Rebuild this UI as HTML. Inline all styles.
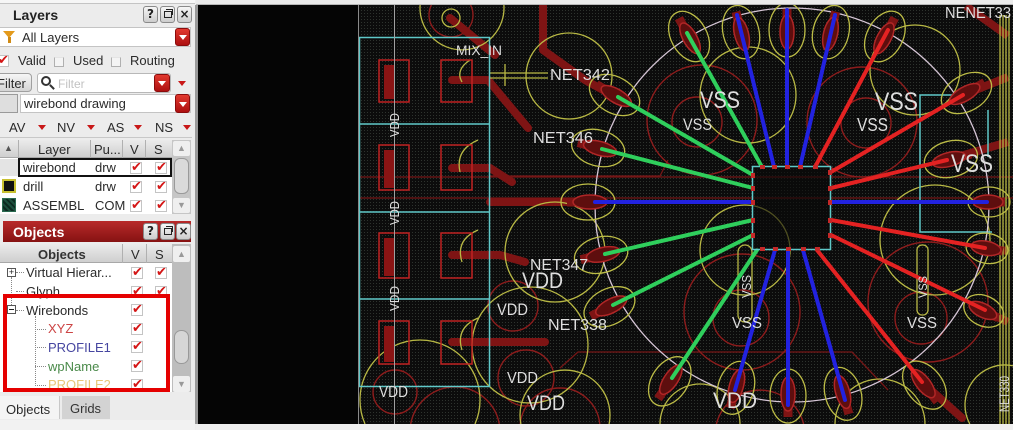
<!DOCTYPE html>
<html><head><meta charset="utf-8">
<style>
*{margin:0;padding:0;box-sizing:border-box}
html{width:1013px;height:430px;overflow:hidden}
body{width:1013px;height:430px;overflow:hidden;background:#eeeeee;position:relative;font-family:"Liberation Sans","DejaVu Sans",sans-serif}
.a{position:absolute}
.t{position:absolute;font-size:13px;color:#2a2a2a;white-space:nowrap;line-height:1}
.rb{position:absolute;background:linear-gradient(#e2392f,#ad1010);border-radius:3px;border:1px solid #8a0c0c}
.rb:after{content:"";position:absolute;left:50%;top:50%;margin-left:-4px;margin-top:-2px;border-left:4px solid transparent;border-right:4px solid transparent;border-top:5px solid #fff}
.tri{position:absolute;width:0;height:0;border-left:4px solid transparent;border-right:4px solid transparent;border-top:5px solid #c81818}
.ck{position:absolute;width:12px;height:12px;background:#fff;border:1px solid #c4c4c4}
.ck:after{content:"✔";position:absolute;left:0px;top:-3px;color:#d41515;font:bold 13px "DejaVu Sans",sans-serif}
.eb{position:absolute;width:10px;height:10px;border:1px solid #b0b0b0;border-top-color:#e4e4e4;background:#f4f4f4}
.btn{position:absolute;width:15px;height:17px;background:linear-gradient(#f6f6f6,#cdcdcd);border:1px solid #8a8a8a;border-radius:3px;font:bold 12px "DejaVu Sans",sans-serif;color:#222;text-align:center;line-height:15px;overflow:hidden}
.hdr{position:absolute;background:linear-gradient(#ebebeb,#cfcfcf);border-bottom:1px solid #a8a8a8}
.vd{position:absolute;width:1px;background:#b0b0b0}
</style></head><body>

<svg class="a" style="left:0;top:0;display:block" width="1013" height="430" viewBox="0 0 1013 430">
<defs>
<pattern id="dp" width="3" height="3" patternUnits="userSpaceOnUse"><rect width="3" height="3" fill="#0c0c0c"/><rect x="1" y="1" width="1" height="1" fill="#2e332e"/></pattern>
<clipPath id="cl"><rect x="359" y="5" width="654" height="419"/></clipPath>
<g id="pd"><path d="M0 0H25" stroke="#7e1414" stroke-width="9"/><ellipse cx="4" rx="27" ry="18" stroke="#bcbc46" stroke-width="1.3" fill="none"/><ellipse cx="2" rx="17" ry="7" fill="#5e0e0e" stroke="#b02626" stroke-width="1.5"/></g>
<g id="ps"><path d="M0 0H18" stroke="#7e1414" stroke-width="9"/><ellipse cx="2" rx="21" ry="15" stroke="#bcbc46" stroke-width="1.3" fill="none"/><ellipse cx="1" rx="15" ry="7" fill="#5e0e0e" stroke="#b02626" stroke-width="1.5"/></g>
</defs>
<rect width="1013" height="430" fill="#eeeeee"/>
<rect x="196" y="5" width="817" height="419" fill="#050505"/>
<rect x="195" y="5" width="3" height="419" fill="#9a9a9a"/>
<g clip-path="url(#cl)" font-family="Liberation Sans, sans-serif" fill="none">
<rect x="359" y="5" width="654" height="419" fill="url(#dp)"/>

<g stroke="#761616" stroke-width="1.3">
<path d="M359 177H1013M359 198H1013"/>
<path d="M560 368L578 352H852L888 390"/>
<path d="M490 176H660L668 160"/>
</g>

<g stroke="#8c1c1c" stroke-width="1.4">
<path d="M431.4 5A22 22 0 1 0 470.6 5"/>
<circle cx="697" cy="122" r="25"/><circle cx="702" cy="120" r="55"/>
<circle cx="866" cy="123" r="25"/><circle cx="862" cy="122" r="55"/>
<circle cx="741" cy="318" r="28"/><circle cx="742" cy="312" r="58"/>
<circle cx="921" cy="318" r="26"/><circle cx="928" cy="302" r="60"/>
<circle cx="513" cy="306" r="25"/>
<circle cx="526" cy="378" r="28"/>
<circle cx="395" cy="392" r="22"/>
<path d="M410.7 424A45 45 0 0 1 499.3 424"/>
<path d="M520.2 424A40 40 0 0 1 599.8 424"/>
<path d="M716.4 424A45 45 0 0 1 803.6 424"/>
</g>

<g stroke="#7e1414" stroke-width="8" stroke-linejoin="round" stroke-linecap="round">
<path d="M543 6V50L585 80L612 95"/>
<path d="M452 80H488L528 128"/>
<path d="M452 168H490L512 182"/>
<path d="M452 255H500L525 262"/>
<path d="M452 342H545"/>
<path d="M490 202H595"/>
<path d="M922 382L962 418"/>
<path d="M450 18L495 55"/>
</g>
<g stroke="#7e1414" stroke-width="8" stroke-linecap="butt">
<path d="M966 6L1008 36"/>
<path d="M963 95L1008 77"/>
<path d="M947 160L1008 142"/>
<path d="M985 248L1008 251"/>
<path d="M982 310L1008 322"/>
</g>

<g stroke="#b8b844" stroke-width="1.3">
<circle cx="569" cy="76" r="43"/>
<path d="M420.1 5A42 42 0 1 0 503.9 5"/>
<circle cx="748" cy="95" r="48"/>
<circle cx="915" cy="70" r="45"/>
<circle cx="555" cy="252" r="50"/>
<circle cx="745" cy="250" r="45"/>
<circle cx="935" cy="240" r="55"/>
<circle cx="530" cy="345" r="58"/>
<path d="M365 424A60 60 0 1 1 475 424"/>
<path d="M520.9 424A45 45 0 1 1 609.1 424"/>
<path d="M660 424A40 40 0 0 1 740 424"/>
<path d="M835 424A45 45 0 0 1 925 424"/>
<path d="M969.8 424A40 40 0 0 1 1013 365.8"/>
<circle cx="451" cy="18" r="9"/>
<path d="M490 73H548M490 78H548M505 64V86"/>
<rect x="738" y="245" width="14" height="77" rx="7"/>
<rect x="917" y="245" width="11" height="70" rx="5"/>
<path d="M470 60Q455 70 462 82M478 140Q455 150 460 172M478 230Q455 240 462 262M478 318Q455 328 462 350"/>
<path d="M1000 15V424M1003 15V424M1006 15V424M1009 15V424"/>
</g>

<g stroke="#5fc8c8" stroke-width="1.5">
<rect x="359.5" y="37.5" width="130" height="349"/>
<path d="M359 124H490M359 212H490M359 299H490"/>
<path d="M960 95H920V232H992M988 110V157"/>
</g>

<g stroke="#c02222" stroke-width="1.5">
<rect x="379" y="60" width="30" height="42"/><rect x="441" y="60" width="31" height="42"/>
<rect x="379" y="145" width="30" height="45"/><rect x="441" y="145" width="31" height="45"/>
<rect x="379" y="233" width="30" height="45"/><rect x="441" y="233" width="31" height="45"/>
<rect x="379" y="321" width="30" height="43"/><rect x="441" y="321" width="31" height="43"/>
</g>
<g fill="#8a1414">
<rect x="384" y="65" width="10" height="34"/><rect x="384" y="150" width="10" height="38"/>
<rect x="384" y="238" width="10" height="38"/><rect x="384" y="326" width="10" height="36"/>
</g>

<circle cx="792" cy="205" r="197" stroke="#d6c6d6" stroke-width="1.3"/>
<path d="M394.5 5V424" stroke="#a0a0a0" stroke-width="1"/>

<g>
<use href="#pd" transform="translate(618 97) rotate(-150)"/>
<use href="#pd" transform="translate(602 149) rotate(-165)"/>
<use href="#pd" transform="translate(691 40) rotate(-119)"/>
<use href="#pd" transform="translate(605 254) rotate(167)"/>
<use href="#pd" transform="translate(613 305) rotate(153)"/>
<use href="#pd" transform="translate(672 378) rotate(124)"/>
<use href="#pd" transform="translate(742 36) rotate(-104)"/>
<use href="#pd" transform="translate(787 34) rotate(-90)"/>
<use href="#pd" transform="translate(830 36) rotate(-77)"/>
<use href="#pd" transform="translate(592 202) rotate(180)"/>
<use href="#ps" transform="translate(987 202)"/>
<use href="#pd" transform="translate(737 384) rotate(106)"/>
<use href="#pd" transform="translate(788 392) rotate(90)"/>
<use href="#pd" transform="translate(842 390) rotate(74)"/>
<use href="#pd" transform="translate(883 40) rotate(-62)"/>
<use href="#pd" transform="translate(963 95) rotate(-30)"/>
<use href="#pd" transform="translate(947 160) rotate(-14)"/>
<use href="#ps" transform="translate(985 248) rotate(10)"/>
<use href="#ps" transform="translate(982 310) rotate(26)"/>
<use href="#pd" transform="translate(922 382) rotate(52)"/>
</g>

<g stroke-width="4" stroke-linecap="round">
<g stroke="#2fcf5c">
<path d="M753 175L618 97"/><path d="M753 188L602 149"/><path d="M762 167L687 33"/>
<path d="M753 220L605 254"/><path d="M753 235L613 305"/><path d="M757 250L672 378"/>
</g>
<g stroke="#2222e0">
<path d="M774 167L737 15"/><path d="M787 167V10"/><path d="M800 167L835 15"/>
<path d="M752 202H595"/><path d="M831 202H987"/>
<path d="M775 250L735 390"/><path d="M788 250V405"/><path d="M803 250L845 400"/>
</g>
<g stroke="#e42222">
<path d="M815 167L888 30"/><path d="M831 172L963 95"/><path d="M831 188L947 160"/>
<path d="M831 220L985 248"/><path d="M831 235L985 310"/><path d="M817 250L922 382"/>
</g>
</g>

<rect x="752.5" y="166.5" width="78" height="83" fill="#0a0a0a" fill-opacity="0.6" stroke="#5fc8c8" stroke-width="1.5"/>
<g fill="#c42828">
<rect x="760" y="165" width="5" height="4"/><rect x="772" y="165" width="5" height="4"/><rect x="785" y="165" width="5" height="4"/><rect x="798" y="165" width="5" height="4"/><rect x="813" y="165" width="5" height="4"/>
<rect x="760" y="247" width="5" height="4"/><rect x="773" y="247" width="5" height="4"/><rect x="786" y="247" width="5" height="4"/><rect x="801" y="247" width="5" height="4"/><rect x="815" y="247" width="5" height="4"/>
<rect x="751" y="173" width="4" height="5"/><rect x="751" y="186" width="4" height="5"/><rect x="751" y="200" width="4" height="5"/><rect x="751" y="218" width="4" height="5"/><rect x="751" y="233" width="4" height="5"/>
<rect x="828" y="170" width="4" height="5"/><rect x="828" y="186" width="4" height="5"/><rect x="828" y="200" width="4" height="5"/><rect x="828" y="218" width="4" height="5"/><rect x="828" y="233" width="4" height="5"/>
</g>

<g fill="#dedede" stroke="none">
<text x="456" y="55" font-size="14" textLength="46" lengthAdjust="spacingAndGlyphs">MIX_IN</text>
<text x="550" y="80" font-size="16" textLength="60" lengthAdjust="spacingAndGlyphs">NET342</text>
<text x="533" y="143" font-size="16" textLength="60" lengthAdjust="spacingAndGlyphs">NET346</text>
<text x="700" y="108" font-size="24" textLength="40" lengthAdjust="spacingAndGlyphs">VSS</text>
<text x="683" y="130" font-size="17" textLength="29" lengthAdjust="spacingAndGlyphs">VSS</text>
<text x="875" y="110" font-size="25" textLength="43" lengthAdjust="spacingAndGlyphs">VSS</text>
<text x="857" y="131" font-size="18" textLength="31" lengthAdjust="spacingAndGlyphs">VSS</text>
<text x="951" y="172" font-size="25" textLength="42" lengthAdjust="spacingAndGlyphs">VSS</text>
<text x="945" y="18" font-size="16" textLength="66" lengthAdjust="spacingAndGlyphs">NENET33</text>
<text x="530" y="270" font-size="16" textLength="58" lengthAdjust="spacingAndGlyphs">NET347</text>
<text x="522" y="288" font-size="22" textLength="41" lengthAdjust="spacingAndGlyphs">VDD</text>
<text x="497" y="315" font-size="17" textLength="31" lengthAdjust="spacingAndGlyphs">VDD</text>
<text x="548" y="330" font-size="16" textLength="59" lengthAdjust="spacingAndGlyphs">NET338</text>
<text x="507" y="383" font-size="16" textLength="31" lengthAdjust="spacingAndGlyphs">VDD</text>
<text x="527" y="410" font-size="21" textLength="38" lengthAdjust="spacingAndGlyphs">VDD</text>
<text x="713" y="408" font-size="22" textLength="44" lengthAdjust="spacingAndGlyphs">VDD</text>
<text x="732" y="328" font-size="16" textLength="30" lengthAdjust="spacingAndGlyphs">VSS</text>
<text x="907" y="328" font-size="16" textLength="30" lengthAdjust="spacingAndGlyphs">VSS</text>
<text x="379" y="397" font-size="16" textLength="29" lengthAdjust="spacingAndGlyphs">VDD</text>
<text transform="translate(399 137) rotate(-90)" font-size="13" textLength="24" lengthAdjust="spacingAndGlyphs">VDD</text>
<text transform="translate(399 225) rotate(-90)" font-size="13" textLength="24" lengthAdjust="spacingAndGlyphs">VDD</text>
<text transform="translate(399 311) rotate(-90)" font-size="13" textLength="25" lengthAdjust="spacingAndGlyphs">VDD</text>
<text transform="translate(751 298) rotate(-90)" font-size="13" textLength="23" lengthAdjust="spacingAndGlyphs">VSS</text>
<text transform="translate(927 298) rotate(-90)" font-size="12" textLength="22" lengthAdjust="spacingAndGlyphs">VSS</text>
<text transform="translate(1009 412) rotate(-90)" font-size="14" textLength="36" lengthAdjust="spacingAndGlyphs">NET330</text>
</g>
</g>
<rect x="358" y="5" width="1" height="419" fill="#8a8a8a"/>
<rect x="196" y="0" width="817" height="5" fill="#ebebeb"/>
<rect x="196" y="4" width="817" height="1" fill="#b8b8b8"/>
<rect x="196" y="424" width="817" height="6" fill="#f0f0f0"/>
</svg>

<div class="a" style="left:0;top:0;width:195px;height:430px;background:#ececec;overflow:hidden">
  <div class="a" style="left:0;top:0;width:195px;height:4px;background:#f6f6f6;border-bottom:1px solid #c4c4c4"></div>
  <div class="t" style="left:13px;top:8px;font-weight:bold;font-size:14px;color:#222">Layers</div>
  <div class="btn" style="left:143px;top:6px">?</div>
  <div class="btn" style="left:160px;top:6px"><div class="a" style="left:3px;top:4px;width:8px;height:7px;border:1.5px solid #222"></div><div class="a" style="left:5px;top:2px;width:7px;height:6px;border-top:1.5px solid #222;border-right:1.5px solid #222"></div></div>
  <div class="btn" style="left:177px;top:6px">×</div>

  <div class="a" style="left:0;top:27px;width:191px;height:20px;background:#fff;border:1px solid #c4c4c4;border-left:none"></div>
  <div class="a" style="left:3px;top:31px;width:0;height:0;border-left:6px solid transparent;border-right:6px solid transparent;border-top:7px solid #e39a1c"></div>
  <div class="a" style="left:8px;top:37px;width:3px;height:6px;background:#d08a14"></div>
  <div class="t" style="left:22px;top:31px">All Layers</div>
  <div class="rb" style="left:175px;top:28px;width:15px;height:18px"></div>

  <div class="ck" style="left:-3px;top:55px"></div>
  <div class="t" style="left:18px;top:54px">Valid</div>
  <div class="eb" style="left:54px;top:57px"></div>
  <div class="t" style="left:73px;top:54px">Used</div>
  <div class="eb" style="left:111px;top:57px"></div>
  <div class="t" style="left:130px;top:54px">Routing</div>

  <div class="a" style="left:-6px;top:73px;width:38px;height:19px;background:linear-gradient(#f6f6f6,#d4d4d4);border:1px solid #a0a0a0;border-radius:4px"></div>
  <div class="t" style="left:-3px;top:77px">Filter</div>
  <div class="a" style="left:37px;top:73px;width:134px;height:20px;background:#fff;border:1px solid #b8b8b8;border-radius:3px"></div>
  <div class="a" style="left:41px;top:76px;width:10px;height:10px;border:2px solid #333;border-radius:50%"></div>
  <div class="a" style="left:49px;top:86px;width:6px;height:2px;background:#333;transform:rotate(45deg)"></div>
  <div class="t" style="left:58px;top:78px;color:#c2c2c2;font-size:12px">Filter</div>
  <div class="rb" style="left:154px;top:74px;width:16px;height:18px"></div>
  <div class="tri" style="left:178px;top:81px"></div>

  <div class="a" style="left:0;top:94px;width:18px;height:19px;background:#dedede;border:1px solid #9a9a9a;border-left:none"></div>
  <div class="a" style="left:20px;top:94px;width:171px;height:19px;background:#fff;border:1px solid #c4c4c4"></div>
  <div class="t" style="left:24px;top:97px">wirebond drawing</div>
  <div class="rb" style="left:175px;top:94px;width:15px;height:19px"></div>

  <div class="t" style="left:9px;top:121px">AV</div><div class="tri" style="left:38px;top:125px"></div>
  <div class="t" style="left:57px;top:121px">NV</div><div class="tri" style="left:87px;top:125px"></div>
  <div class="t" style="left:107px;top:121px">AS</div><div class="tri" style="left:134px;top:125px"></div>
  <div class="t" style="left:155px;top:121px">NS</div><div class="tri" style="left:183px;top:125px"></div>
  <div class="a" style="left:0;top:137px;width:192px;height:1px;background:#c8c8c8"></div>

  <div class="a" style="left:0;top:140px;width:172px;height:74px;background:#fff"></div>
  <div class="hdr" style="left:0;top:140px;width:172px;height:18px"></div>
  <div class="vd" style="left:18px;top:140px;height:18px"></div>
  <div class="vd" style="left:90px;top:140px;height:18px"></div>
  <div class="vd" style="left:122px;top:140px;height:18px"></div>
  <div class="vd" style="left:145px;top:140px;height:18px"></div>
  <div class="t" style="left:4px;top:144px;font-size:9px;color:#555">▲</div>
  <div class="t" style="left:38px;top:143px">Layer</div>
  <div class="t" style="left:94px;top:143px">Pu...</div>
  <div class="t" style="left:130px;top:143px">V</div>
  <div class="t" style="left:154px;top:143px">S</div>

  <div class="a" style="left:0;top:159px;width:18px;height:17px;background:#e4e4e4"></div>
  <div class="a" style="left:18px;top:158px;width:154px;height:19px;border:2px solid #111"></div>
  <div class="t" style="left:23px;top:161px">wirebond</div>
  <div class="t" style="left:95px;top:161px">drw</div>
  <div class="ck" style="left:130px;top:162px"></div><div class="ck" style="left:155px;top:162px"></div>

  <div class="a" style="left:2px;top:179px;width:14px;height:14px;background:#111;border:2px solid #c8c030"></div>
  <div class="t" style="left:23px;top:180px">drill</div>
  <div class="t" style="left:95px;top:180px">drw</div>
  <div class="ck" style="left:130px;top:181px"></div><div class="ck" style="left:155px;top:181px"></div>

  <div class="a" style="left:2px;top:198px;width:14px;height:14px;background:repeating-linear-gradient(45deg,#1c4e3c 0 2px,#0d2a20 2px 4px);border:1px solid #2a6a50"></div>
  <div class="t" style="left:23px;top:199px">ASSEMBL</div>
  <div class="t" style="left:95px;top:199px">COM</div>
  <div class="ck" style="left:130px;top:200px"></div><div class="ck" style="left:155px;top:200px"></div>

  <div class="a" style="left:172px;top:140px;width:19px;height:74px;background:#c6c6c6"></div>
  <div class="a" style="left:173px;top:141px;width:17px;height:15px;background:#efefef;border-radius:2px;font-size:9px;color:#999;text-align:center;line-height:15px">▲</div>
  <div class="a" style="left:174px;top:158px;width:15px;height:36px;background:#dadada;border:1px solid #9a9a9a;border-radius:6px"></div>
  <div class="a" style="left:173px;top:198px;width:17px;height:15px;background:#efefef;border-radius:2px;font-size:9px;color:#999;text-align:center;line-height:15px">▼</div>

  <div class="a" style="left:3px;top:221px;width:188px;height:21px;background:linear-gradient(#b82a2a,#861212)"></div>
  <div class="t" style="left:13px;top:225px;font-weight:bold;font-size:14px;color:#fff">Objects</div>
  <div class="btn" style="left:143px;top:223px">?</div>
  <div class="btn" style="left:160px;top:223px"><div class="a" style="left:3px;top:4px;width:8px;height:7px;border:1.5px solid #222"></div><div class="a" style="left:5px;top:2px;width:7px;height:6px;border-top:1.5px solid #222;border-right:1.5px solid #222"></div></div>
  <div class="btn" style="left:176px;top:223px">×</div>

  <div class="a" style="left:0;top:244px;width:172px;height:148px;background:#fff"></div>
  <div class="hdr" style="left:0;top:244px;width:172px;height:19px"></div>
  <div class="vd" style="left:122px;top:244px;height:19px"></div>
  <div class="vd" style="left:146px;top:244px;height:19px"></div>
  <div class="t" style="left:38px;top:248px;font-weight:bold;color:#333">Objects</div>
  <div class="t" style="left:131px;top:248px">V</div>
  <div class="t" style="left:155px;top:248px">S</div>

  <div class="a" style="left:11px;top:277px;width:0;height:30px;border-left:1px dotted #888"></div>
  <div class="a" style="left:16px;top:291px;width:8px;height:0;border-top:1px dotted #888"></div>
  <div class="a" style="left:35px;top:316px;width:0;height:70px;border-left:1px dotted #888"></div>
  <div class="a" style="left:35px;top:329px;width:11px;height:0;border-top:1px dotted #888"></div>
  <div class="a" style="left:35px;top:347px;width:11px;height:0;border-top:1px dotted #888"></div>
  <div class="a" style="left:35px;top:366px;width:11px;height:0;border-top:1px dotted #888"></div>
  <div class="a" style="left:35px;top:385px;width:11px;height:0;border-top:1px dotted #888"></div>

  <div class="a" style="left:7px;top:268px;width:9px;height:9px;border:1px solid #555;background:#fff;font-size:9px;line-height:7px;text-align:center;color:#222">+</div>
  <div class="a" style="left:16px;top:272px;width:8px;height:0;border-top:1px dotted #888"></div>
  <div class="t" style="left:26px;top:266px">Virtual Hierar...</div>
  <div class="ck" style="left:131px;top:267px"></div><div class="ck" style="left:155px;top:267px"></div>
  <div class="t" style="left:26px;top:285px">Glyph</div>
  <div class="ck" style="left:131px;top:286px"></div><div class="ck" style="left:155px;top:286px"></div>

  <div class="a" style="left:7px;top:305px;width:9px;height:9px;border:1px solid #555;background:#fff"><div class="a" style="left:1px;top:3px;width:5px;height:1px;background:#222"></div></div>
  <div class="a" style="left:16px;top:310px;width:8px;height:0;border-top:1px dotted #888"></div>
  <div class="t" style="left:26px;top:304px">Wirebonds</div>
  <div class="ck" style="left:131px;top:304px"></div>
  <div class="t" style="left:48px;top:322px;color:#cc4444">XYZ</div>
  <div class="ck" style="left:131px;top:323px"></div>
  <div class="t" style="left:48px;top:341px;color:#4646a0">PROFILE1</div>
  <div class="ck" style="left:131px;top:341px"></div>
  <div class="t" style="left:48px;top:360px;color:#4a8a4a">wpName</div>
  <div class="ck" style="left:131px;top:360px"></div>
  <div class="a" style="left:0;top:378px;width:172px;height:14px;overflow:hidden"><div class="t" style="left:48px;top:0px;color:#e8c878">PROFILE2</div><div class="ck" style="left:131px;top:1px"></div></div>

  <div class="a" style="left:172px;top:244px;width:19px;height:148px;background:#bdbdbd"></div>
  <div class="a" style="left:173px;top:246px;width:17px;height:16px;background:#efefef;border-radius:2px;font-size:9px;color:#999;text-align:center;line-height:16px">▲</div>
  <div class="a" style="left:174px;top:330px;width:15px;height:34px;background:#d6d6d6;border:1px solid #999;border-radius:7px"></div>
  <div class="a" style="left:173px;top:376px;width:17px;height:16px;background:#efefef;border-radius:2px;font-size:9px;color:#999;text-align:center;line-height:16px">▼</div>

  <div class="a" style="left:3px;top:294px;width:167px;height:98px;border:4px solid #e50000"></div>

  <div class="a" style="left:0;top:396px;width:60px;height:23px;background:#f4f4f4;border-right:1px solid #c8c8c8"></div>
  <div class="t" style="left:6px;top:403px">Objects</div>
  <div class="a" style="left:62px;top:396px;width:48px;height:23px;background:#d3d3d3"></div>
  <div class="t" style="left:70px;top:402px;color:#333">Grids</div>
  <div class="a" style="left:0;top:420px;width:195px;height:10px;background:#f2f2f2"></div>
</div>
</body></html>
